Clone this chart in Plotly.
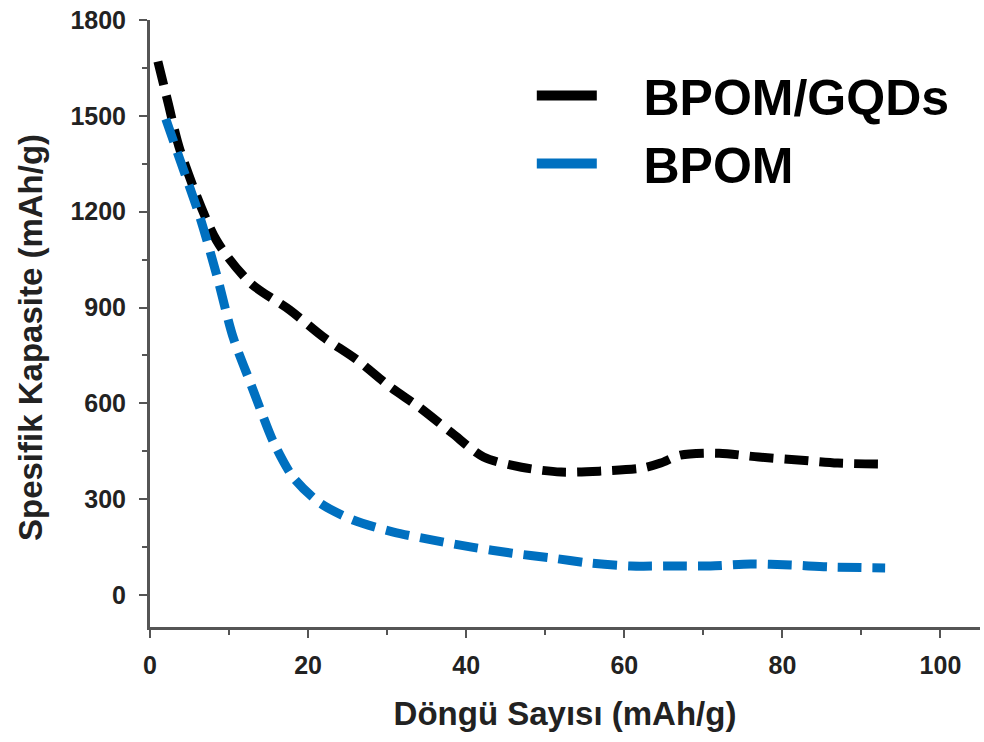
import plotly.graph_objects as go

# BPOM/GQDs (black)
gqd_cycles = [1, 2.3, 3.8, 8.4, 12.7, 17.7, 21.9, 26.2, 30.4, 34, 38.2, 42.2, 47, 52, 57, 62.4, 64.6, 67.1, 72, 77, 82, 87, 93]
gqd_capacity = [1670, 1540, 1393, 1111, 977, 892, 808, 736, 651, 589, 507, 432, 400, 385, 388, 398, 413, 438, 444, 432, 423, 413, 410]

# BPOM (blue)
bpom_cycles = [2, 3.8, 6.3, 8.5, 10.5, 12.7, 14, 15.6, 18.1, 21.5, 25.7, 30.8, 35.8, 40.7, 45.8, 50.5, 55.7, 60.8, 65.8, 70.9, 76, 81, 86, 93]
bpom_capacity = [1490, 1362, 1184, 996, 808, 664, 579, 480, 369, 288, 235, 197, 172, 150, 131, 117, 100, 91, 91, 91, 97, 94, 88, 85]

names = ["BPOM/GQDs", "BPOM"]
colors = ["#000000", "#0070c0"]

x_ticks = [0, 20, 40, 60, 80, 100]
y_ticks = [0, 300, 600, 900, 1200, 1500, 1800]

x_title = "Döngü Sayısı (mAh/g)"
y_title = "Spesifik Kapasite (mAh/g)"

FONT = "Liberation Sans, Arial, sans-serif"
GAP = "\u00a0\u00a0\u00a0"

fig = go.Figure()
for xs, ys, nm, c in [(gqd_cycles, gqd_capacity, names[0], colors[0]),
                      (bpom_cycles, bpom_capacity, names[1], colors[1])]:
    fig.add_trace(go.Scatter(x=xs, y=ys, mode="lines", name=nm, showlegend=False,
                             line=dict(color=c, width=9, dash="24px,11px", shape="spline", smoothing=0.8)))
    fig.add_trace(go.Scatter(x=[None], y=[None], mode="lines", name=GAP + nm,
                             line=dict(color=c, width=10)))

axis_common = dict(
    showline=True, linecolor="#555555", linewidth=3,
    ticks="outside", ticklen=8, tickwidth=2, tickcolor="#555555",
    showgrid=False, zeroline=False, mirror=False,
    tickfont=dict(family=FONT, size=25, color="#222222", weight="bold"),
)

fig.update_xaxes(range=[0, 105], tickvals=x_ticks, ticklabelstandoff=6,
                 minor=dict(dtick=10, ticks="outside", ticklen=5, tickwidth=2, tickcolor="#555555"),
                 title=dict(text=x_title, standoff=24,
                            font=dict(family=FONT, size=33, color="#222222", weight="bold")),
                 **axis_common)
fig.update_yaxes(range=[-100, 1800], tickvals=y_ticks, ticklabelstandoff=8,
                 minor=dict(dtick=150, ticks="outside", ticklen=5, tickwidth=2, tickcolor="#555555"),
                 **axis_common)

fig.add_annotation(text=y_title, xref="paper", yref="paper",
                   x=(30 - 150) / 830, y=1 - (338 - 20) / 607,
                   xanchor="center", yanchor="middle", textangle=-90, showarrow=False,
                   font=dict(family=FONT, size=33, color="#222222", weight="bold"))

fig.update_layout(
    width=984, height=742,
    margin=dict(l=150, r=4, t=20, b=115),
    paper_bgcolor="white", plot_bgcolor="white",
    legend=dict(x=0.46, y=0.94, xanchor="left", yanchor="top",
                font=dict(family=FONT, size=50, color="#000000", weight="bold"),
                itemwidth=60, bgcolor="rgba(0,0,0,0)", tracegroupgap=0),
)

fig.write_html("out.html")
